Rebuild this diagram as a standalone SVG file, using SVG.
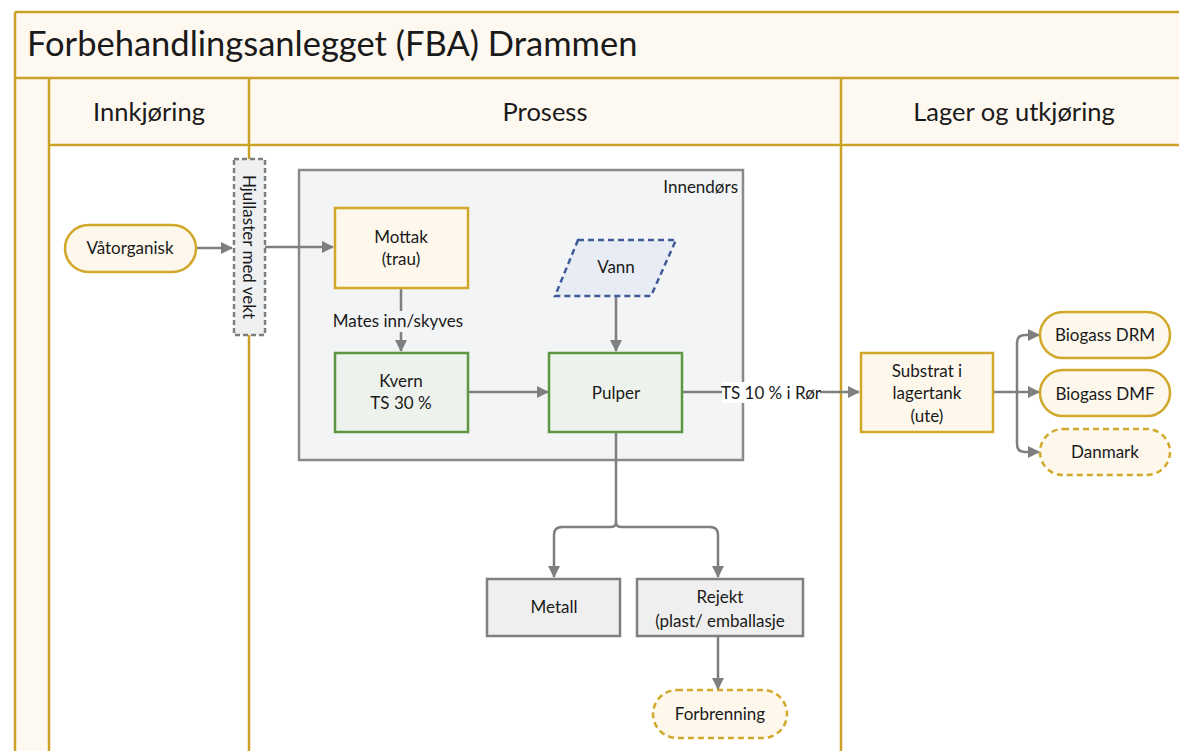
<svg xmlns="http://www.w3.org/2000/svg" width="1179" height="751" viewBox="0 0 1179 751">
<defs>
<style>
.t{font-family:Lato,"Open Sans","Liberation Sans",sans-serif;fill:#1a1a1a;text-anchor:middle;font-size:17px}
.lane{stroke:#c9a227;stroke-width:2.5;fill:none}
.yel{fill:#fdf7ec;stroke:#d1a92a;stroke-width:2.5}
.yeld{fill:#fdf7ec;stroke:#d1a92a;stroke-width:2.5;stroke-dasharray:6 4}
.grn{fill:#eef2ec;stroke:#5e9742;stroke-width:2.5}
.gry{fill:#efefef;stroke:#7f7f7f;stroke-width:2.5}
.con{fill:none;stroke:#7f7f7f;stroke-width:2.5;stroke-linejoin:round}
</style>
<marker id="ah" viewBox="0 0 12 12" refX="11" refY="6" markerWidth="12" markerHeight="12" markerUnits="userSpaceOnUse" orient="auto">
<path d="M0,0 L12,6 L0,12 Z" fill="#7f7f7f"/>
</marker>
</defs>
<rect width="1179" height="751" fill="#ffffff"/>
<g id="pool">
<rect x="15" y="12" width="1170" height="66" fill="#fdf8f0"/>
<rect x="15" y="78" width="34" height="680" fill="#fdf8f0"/>
<rect x="49" y="78" width="1130" height="67" fill="#fdf8f0"/>
<path class="lane" d="M15,12 H1179 M15,12 V751 M15,78 H1179 M49,78 V751 M49,145 H1179 M249,78 V751 M841,78 V751"/>
<text class="t" x="27" y="56" style="text-anchor:start;font-size:34.5px">Forbehandlingsanlegget (FBA) Drammen</text>
<text class="t" x="149" y="121" style="font-size:25.5px">Innkjøring</text>
<text class="t" x="545" y="121" style="font-size:25.5px">Prosess</text>
<text class="t" x="1014" y="121" style="font-size:25.5px">Lager og utkjøring</text>
</g>
<g id="innendors">
<rect x="299" y="170" width="444" height="290" fill="#f3f4f5" stroke="#8a8a8a" stroke-width="2.5"/>
<text class="t" x="738" y="193" style="text-anchor:end">Innendørs</text>
</g>
<g id="hjullaster">
<rect x="234" y="159" width="31" height="176" fill="#eef0f2" stroke="#7f7f7f" stroke-width="2.5" stroke-dasharray="5 3"/>
<text class="t" x="0" y="0" transform="translate(243,247) rotate(90)">Hjullaster med vekt</text>
</g>
<g id="connectors">
<path class="con" d="M196,248 H232" marker-end="url(#ah)"/>
<path class="con" d="M265,247 H333" marker-end="url(#ah)"/>
<path class="con" d="M401,288 V351" marker-end="url(#ah)"/>
<path class="con" d="M468,392 H548" marker-end="url(#ah)"/>
<path class="con" d="M616,296 V351" marker-end="url(#ah)"/>
<path class="con" d="M682,392 H859" marker-end="url(#ah)"/>
<path class="con" d="M993,392 H1039" marker-end="url(#ah)"/>
<path class="con" d="M1017,392 V343 Q1017,335 1025,335 H1039" marker-end="url(#ah)"/>
<path class="con" d="M1017,392 V444 Q1017,452 1025,452 H1039" marker-end="url(#ah)"/>
<path class="con" d="M616,432 V522 Q616,527 611,527 H562 Q554,527 554,535 V577" marker-end="url(#ah)"/>
<path class="con" d="M616,522 Q616,527 621,527 H710 Q718,527 718,535 V577" marker-end="url(#ah)"/>
<path class="con" d="M718,636 V689" marker-end="url(#ah)"/>
<rect x="331" y="311" width="134" height="21" fill="#f3f4f5"/>
<text class="t" x="398" y="327">Mates inn/skyves</text>
<rect x="722" y="382" width="98" height="21" fill="#ffffff"/>
<text class="t" x="771" y="399">TS 10 % i Rør</text>
</g>
<g id="vatorganisk">
<rect class="yel" x="65" y="225" width="131" height="47" rx="23.5"/>
<text class="t" x="130" y="254">Våtorganisk</text>
</g>
<g id="mottak">
<rect class="yel" x="335" y="208" width="133" height="80"/>
<text class="t" x="401" y="243">Mottak</text>
<text class="t" x="401" y="265">(trau)</text>
</g>
<g id="vann">
<path d="M578,240 H676 L651,296 H555 Z" fill="#e8ecf5" stroke="#3f5c99" stroke-width="2.5" stroke-dasharray="6 4"/>
<text class="t" x="616" y="273">Vann</text>
</g>
<g id="kvern">
<rect class="grn" x="335" y="353" width="133" height="79"/>
<text class="t" x="401" y="387">Kvern</text>
<text class="t" x="401" y="409">TS 30 %</text>
</g>
<g id="pulper">
<rect class="grn" x="549" y="353" width="133" height="79"/>
<text class="t" x="616" y="399">Pulper</text>
</g>
<g id="substrat">
<rect class="yel" x="861" y="353" width="132" height="79"/>
<text class="t" x="927" y="377">Substrat i</text>
<text class="t" x="927" y="399">lagertank</text>
<text class="t" x="927" y="422">(ute)</text>
</g>
<g id="biogass-drm">
<rect class="yel" x="1040" y="312" width="130" height="46" rx="23"/>
<text class="t" x="1105" y="341">Biogass DRM</text>
</g>
<g id="biogass-dmf">
<rect class="yel" x="1040" y="370" width="130" height="46" rx="23"/>
<text class="t" x="1105" y="400">Biogass DMF</text>
</g>
<g id="danmark">
<rect class="yeld" x="1040" y="429" width="130" height="46" rx="23"/>
<text class="t" x="1105" y="458">Danmark</text>
</g>
<g id="metall">
<rect class="gry" x="487" y="579" width="133" height="57"/>
<text class="t" x="554" y="613">Metall</text>
</g>
<g id="rejekt">
<rect class="gry" x="637" y="579" width="166" height="57"/>
<text class="t" x="720" y="603">Rejekt</text>
<text class="t" x="720" y="627">(plast/ emballasje</text>
</g>
<g id="forbrenning">
<rect class="yeld" x="653" y="690" width="134" height="48" rx="24"/>
<text class="t" x="720" y="720">Forbrenning</text>
</g>
</svg>
